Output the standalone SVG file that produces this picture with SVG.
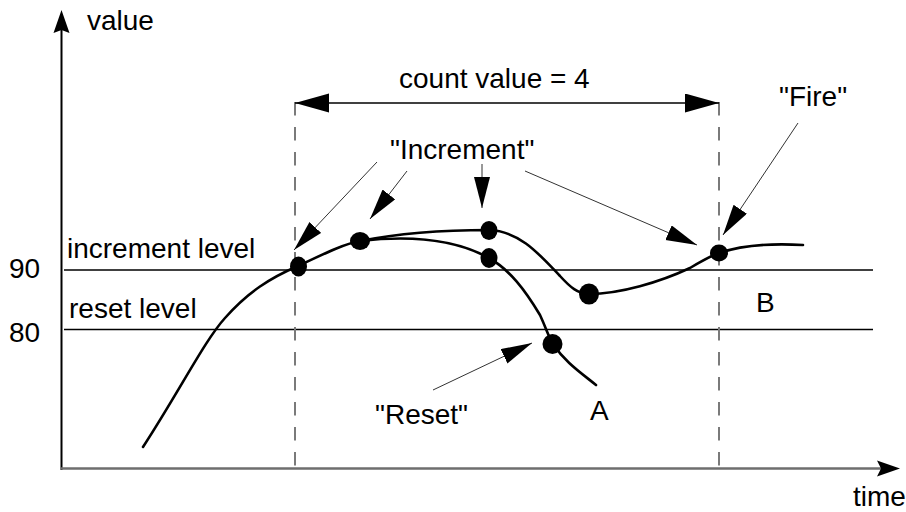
<svg xmlns="http://www.w3.org/2000/svg" width="906" height="512" viewBox="0 0 906 512">
<style>
text{font-family:"Liberation Sans",Arial,sans-serif;font-size:28px;fill:#000}
.lvl{stroke:#000;stroke-width:1.3;fill:none}
.dash{stroke:#7a7a7a;stroke-width:2;stroke-dasharray:13.5 11.5;fill:none}
.curve{stroke:#000;stroke-width:2.6;fill:none;stroke-linecap:round}
.ptr{stroke:#333;stroke-width:1;fill:none;marker-end:url(#ah)}
.dot{fill:#000}
</style>
<defs>
<marker id="ah" markerUnits="userSpaceOnUse" orient="auto" markerWidth="34" markerHeight="20" refX="31" refY="8" viewBox="0 0 34 20">
<path d="M0,0 L31,8 L0,16 z" fill="#000"/>
</marker>
<marker id="big" markerUnits="userSpaceOnUse" orient="auto-start-reverse" markerWidth="36" markerHeight="22" refX="34" refY="9.5" viewBox="0 0 36 22">
<path d="M0,0 L34,9.5 L0,19 z" fill="#000"/>
</marker>
</defs>
<g id="axes">
<line x1="61.5" y1="470" x2="61.5" y2="30" stroke="#000" stroke-width="2"/>
<path d="M61.5,10 L69.5,33 L61.5,30 L53.5,33 z" fill="#000"/>
<line x1="61" y1="468.5" x2="882" y2="468.5" stroke="#6e6e6e" stroke-width="2.5"/>
<path d="M900,468.5 L877,460.5 L881,468.5 L877,476.5 z" fill="#000"/>
<text x="87" y="30">value</text>
<text x="853" y="506">time</text>
</g>
<g id="levels">
<line class="lvl" x1="64" y1="270" x2="873" y2="270"/>
<line class="lvl" x1="64" y1="329.5" x2="873" y2="329.5"/>
<text x="67" y="258">increment level</text>
<text x="9" y="278">90</text>
<text x="69" y="318">reset level</text>
<text x="9" y="342">80</text>
</g>
<g id="window">
<line class="dash" x1="295" y1="102" x2="295" y2="466"/>
<line class="dash" x1="719" y1="102" x2="719" y2="466"/>
<line x1="295" y1="103" x2="719" y2="103" stroke="#000" stroke-width="1.3" marker-start="url(#big)" marker-end="url(#big)"/>
<text x="399" y="88">count value = 4</text>
</g>
<g id="curves">
<path class="curve" d="M143,447 C180,390 205,340 225,318 C248,292 270,278 298,266 C320,256 340,245 360,241"/>
<path class="curve" d="M360,241 C400,233 440,230 489,230 C520,231 540,255 560,276 C570,287 578,294 589,294 C620,294 660,282 690,268 C700,262 710,256 719,253 C740,246 770,243 803,245"/>
<path class="curve" d="M360,241 C420,234 460,242 489,258 C510,270 525,290 540,315 C546,328 549,338 553,344 C565,362 580,372 596,385"/>
<text x="590" y="420">A</text>
<text x="756" y="312">B</text>
</g>
<g id="points">
<ellipse class="dot" cx="298.5" cy="266.5" rx="8.5" ry="10"/>
<ellipse class="dot" cx="360" cy="241" rx="10" ry="9"/>
<ellipse class="dot" cx="489" cy="230.5" rx="8.5" ry="9.5"/>
<ellipse class="dot" cx="489" cy="258" rx="8.5" ry="10"/>
<ellipse class="dot" cx="589" cy="294" rx="10" ry="10.5"/>
<ellipse class="dot" cx="552.5" cy="344" rx="10" ry="10"/>
<ellipse class="dot" cx="719" cy="253" rx="9" ry="8.5"/>
</g>
<g id="labels">
<text x="390" y="159">"Increment"</text>
<text x="779" y="106">"Fire"</text>
<text x="375" y="424">"Reset"</text>
</g>
<g id="connectors">
<line class="ptr" x1="377" y1="162" x2="294" y2="250"/>
<line class="ptr" x1="407" y1="171" x2="370" y2="219"/>
<line class="ptr" x1="482" y1="164" x2="482" y2="208"/>
<line class="ptr" x1="525" y1="171" x2="697" y2="245"/>
<line class="ptr" x1="798" y1="123" x2="723" y2="235"/>
<line class="ptr" x1="433" y1="390" x2="532" y2="343"/>
</g>
</svg>
